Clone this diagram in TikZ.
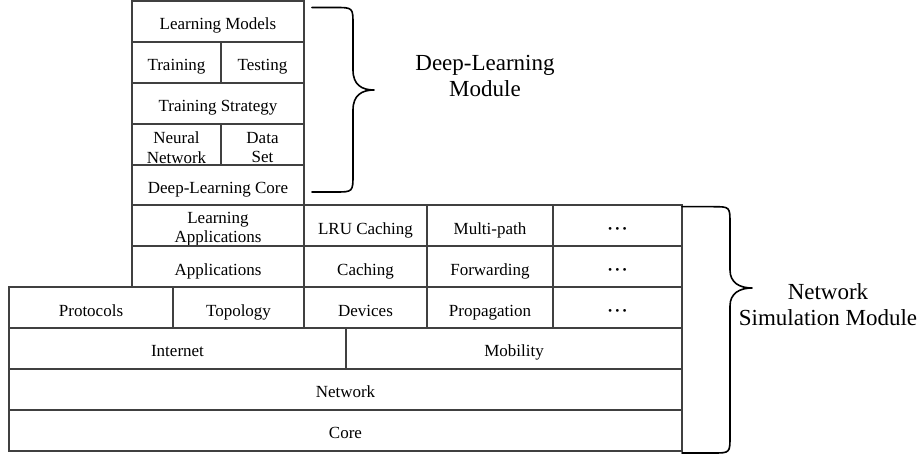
\documentclass[tikz,border=0pt]{standalone}
\usepackage{fontspec}
\setmainfont{Liberation Serif}
\tikzset{
  cellframe/.style={draw=black!75, line width=2pt, inner sep=0pt},
  celltext/.style={inner sep=0pt, align=center, font=\fontsize{17}{19.5}\selectfont},
  one/.style={text height=11.8pt, text depth=3.8pt, yshift=-4.3pt},
  two/.style={yshift=-3.3pt},
  bigtext/.style={align=center, inner sep=0pt, font=\fontsize{23}{26}\selectfont},
  bracepath/.style={draw=black, line width=1.6pt, line cap=round, line join=round}
}
% #1 text style, #2 name, #3..#6 corners, #7 text
\newcommand\cellbox[7][one]{%
  \node[cellframe,minimum width={(#5-#3)*1pt},minimum height={(#6-#4)*1pt}] (#2) at ({(#3+#5)/2},{(#4+#6)/2}) {};
  \node[celltext,#1] (#2-t) at (#2.center) {#7};}
\newcommand\mydots{{\bfseries\textperiodcentered\kern1.6pt\textperiodcentered\kern1.6pt\textperiodcentered}}
\begin{document}
\begin{tikzpicture}[x=1pt,y=-1pt]
\useasboundingbox (0,0) rectangle (923,454);
% Deep-learning stack
\cellbox{lm}{132}{1}{304}{41.9}{Learning Models}
\cellbox{train}{132}{41.9}{221}{82.8}{Training}
\cellbox{test}{221}{41.9}{304}{82.8}{Testing}
\cellbox{ts}{132}{82.8}{304}{123.7}{Training Strategy}
\cellbox[two]{nn}{132}{123.7}{221}{164.6}{Neural\\Network}
\cellbox[two]{ds}{221}{123.7}{304}{164.6}{Data\\Set}
\cellbox{dlc}{132}{164.6}{304}{205.5}{Deep-Learning Core}
% Application rows
\cellbox[two]{la}{132}{205.5}{304}{246.4}{Learning\\Applications}
\cellbox{lru}{304}{205.5}{427}{246.4}{LRU Caching}
\cellbox{mp}{427}{205.5}{553}{246.4}{Multi-path}
\cellbox{d1}{553}{205.5}{682}{246.4}{\mydots}
\cellbox{app}{132}{246.4}{304}{287.3}{Applications}
\cellbox{cach}{304}{246.4}{427}{287.3}{Caching}
\cellbox{fwd}{427}{246.4}{553}{287.3}{Forwarding}
\cellbox{d2}{553}{246.4}{682}{287.3}{\mydots}
% Protocol row
\cellbox{prot}{9}{287.3}{173}{328.2}{Protocols}
\cellbox{topo}{173}{287.3}{304}{328.2}{Topology}
\cellbox{dev}{304}{287.3}{427}{328.2}{Devices}
\cellbox{prop}{427}{287.3}{553}{328.2}{Propagation}
\cellbox{d3}{553}{287.3}{682}{328.2}{\mydots}
% Lower rows
\cellbox{inet}{9}{328.2}{346}{369.1}{Internet}
\cellbox{mob}{346}{328.2}{682}{369.1}{Mobility}
\cellbox{net}{9}{369.1}{682}{410}{Network}
\cellbox{core}{9}{410}{682}{450.9}{Core}
% Braces
\draw[bracepath] (312,7.5) -- (335,7.5) .. controls (353,7.5) .. (353,25) -- (353,70)
  .. controls (353,85) and (362,90) .. (374,90)
  .. controls (362,90) and (353,95) .. (353,110) -- (353,174)
  .. controls (353,192) .. (335,192) -- (312,192);
\draw[bracepath] (682,206.7) -- (713,206.7) .. controls (730,206.7) .. (730,224) -- (730,270)
  .. controls (730,283) and (740,288) .. (752,288)
  .. controls (740,288) and (730,293) .. (730,306) -- (730,436)
  .. controls (730,453) .. (713,453) -- (682,453);
% Labels
\node[bigtext] (dlm) at (485,76) {Deep-Learning\\Module};
\node[bigtext] (nsm) at (828,305) {Network\\Simulation Module};
\end{tikzpicture}
\end{document}
